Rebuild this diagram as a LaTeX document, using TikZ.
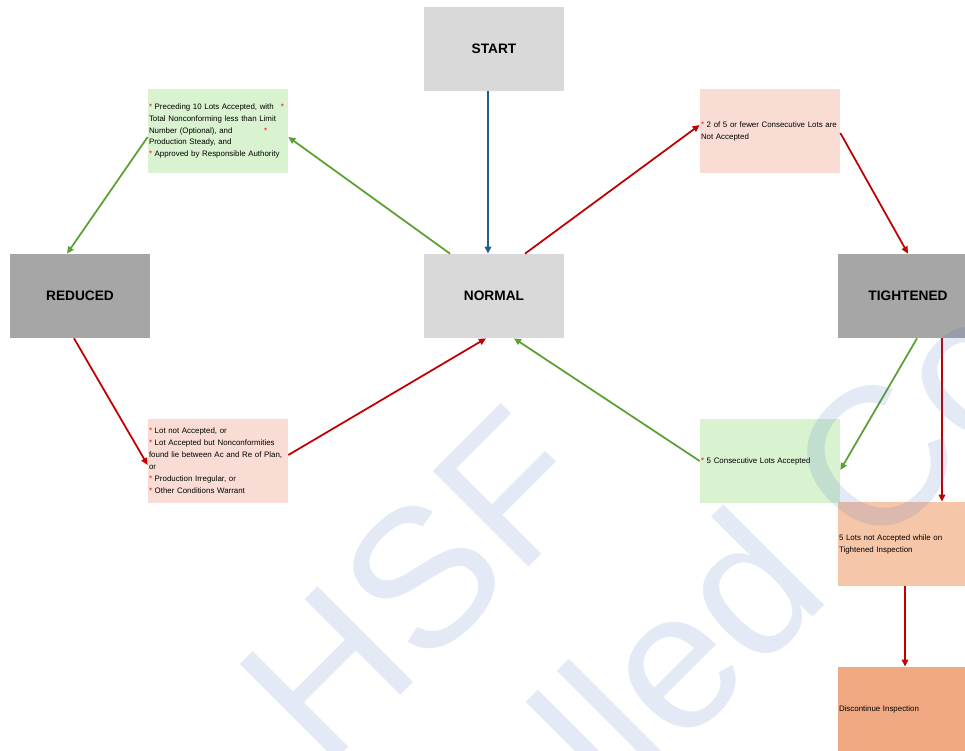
\documentclass[tikz,border=0pt]{standalone}
\usepackage{fontspec}
\setmainfont{Liberation Sans}
\usetikzlibrary{arrows.meta}
\definecolor{boxgrey}{RGB}{217,217,217}
\definecolor{boxdark}{RGB}{166,166,166}
\definecolor{boxgreen}{RGB}{217,242,208}
\definecolor{boxpink}{RGB}{249,221,212}
\definecolor{boxpeach}{RGB}{246,198,168}
\definecolor{boxorange}{RGB}{240,168,130}
\definecolor{arrgreen}{RGB}{90,160,50}
\definecolor{arrred}{RGB}{192,0,0}
\definecolor{arrblue}{RGB}{31,95,140}
\definecolor{wmblue}{RGB}{68,114,196}
\newcommand{\redstar}{{\color{red}*}}
\tikzset{
  state/.style={rectangle, minimum width=2.8cm, minimum height=1.68cm,
    font=\bfseries\fontsize{7.8}{9}\selectfont},
  note/.style={rectangle, minimum width=2.8cm, minimum height=1.68cm,
    text width=2.76cm, inner xsep=0.02cm, inner ysep=0.06cm, align=left,
    font=\fontsize{4.5}{6.8}\selectfont},
  flow/.style={line width=1pt, -{Triangle[length=4pt,width=3.6pt]}},
  wmark/.style={inner sep=0, anchor=base west, rotate=45, text=wmblue,
    text opacity=0.15, font=\fontsize{112}{112}\selectfont}
}
\begin{document}
\begin{tikzpicture}[x=0.02cm, y=-0.02cm]
  \clip (0,0) rectangle (965,751);
  \node[state, fill=boxgrey] (start) at (494,49) {START};
  \node[state, fill=boxgrey] (normal) at (494,296) {NORMAL};
  \node[state, fill=boxdark] (reduced) at (80,296) {REDUCED};
  \node[state, fill=boxdark] (tightened) at (908,296) {TIGHTENED};
  \node[note, fill=boxgreen] (accTen) at (218,131)
    {\redstar\ Preceding 10 Lots Accepted, with\hspace{4pt}\redstar\\
     Total Nonconforming less than Limit\\
     Number (Optional), and\hspace{18pt}\redstar\\
     Production Steady, and\\
     \redstar\ Approved by Responsible Authority};
  \node[note, fill=boxpink] (twoOfFive) at (770,131)
    {\redstar\ 2 of 5 or fewer Consecutive Lots are\\ Not Accepted};
  \node[note, fill=boxpink] (lotNot) at (218,461)
    {\redstar\ Lot not Accepted, or\\
     \redstar\ Lot Accepted but Nonconformities\\
     found lie between Ac and Re of Plan,\\
     or\\
     \redstar\ Production Irregular, or\\
     \redstar\ Other Conditions Warrant};
  \node[note, fill=boxgreen] (fiveAcc) at (770,461)
    {\redstar\ 5 Consecutive Lots Accepted};
  \node[note, fill=boxpeach] (fiveNot) at (908,544)
    {5 Lots not Accepted while on\\ Tightened Inspection};
  \node[note, fill=boxorange] (discont) at (908,709)
    {Discontinue Inspection};

  \draw[flow, arrblue] ([xshift=-0.12cm]start.south) -- ([xshift=-0.12cm]normal.north);
  \draw[flow, arrgreen] ([xshift=-0.88cm]normal.north) -- ([yshift=-0.12cm]accTen.east);
  \draw[flow, arrgreen] ([yshift=-0.12cm]accTen.west) -- ([xshift=-0.26cm]reduced.north);
  \draw[flow, arrred] ([xshift=-0.12cm]reduced.south) -- ([yshift=-0.08cm]lotNot.west);
  \draw[flow, arrred] ([yshift=0.12cm]lotNot.east) -- ([xshift=-0.16cm]normal.south);
  \draw[flow, arrred] ([xshift=0.62cm]normal.north) -- ([yshift=0.12cm]twoOfFive.west);
  \draw[flow, arrred] ([yshift=-0.04cm]twoOfFive.east) -- (tightened.north);
  \draw[flow, arrgreen] ([xshift=0.18cm]tightened.south) -- ([yshift=-0.18cm]fiveAcc.east);
  \draw[flow, arrgreen] (fiveAcc.west) -- ([xshift=0.4cm]normal.south);
  \draw[flow, arrred] ([xshift=0.68cm]tightened.south) -- ([xshift=0.68cm]fiveNot.north);
  \draw[flow, arrred] ([xshift=-0.06cm]fiveNot.south) -- ([xshift=-0.06cm]discont.north);

  \node[wmark] (wmTop) at (324,772) {HSF};
  \node[wmark] (wmBottom) at (200,1230) {Controlled Copy};
\end{tikzpicture}
\end{document}
